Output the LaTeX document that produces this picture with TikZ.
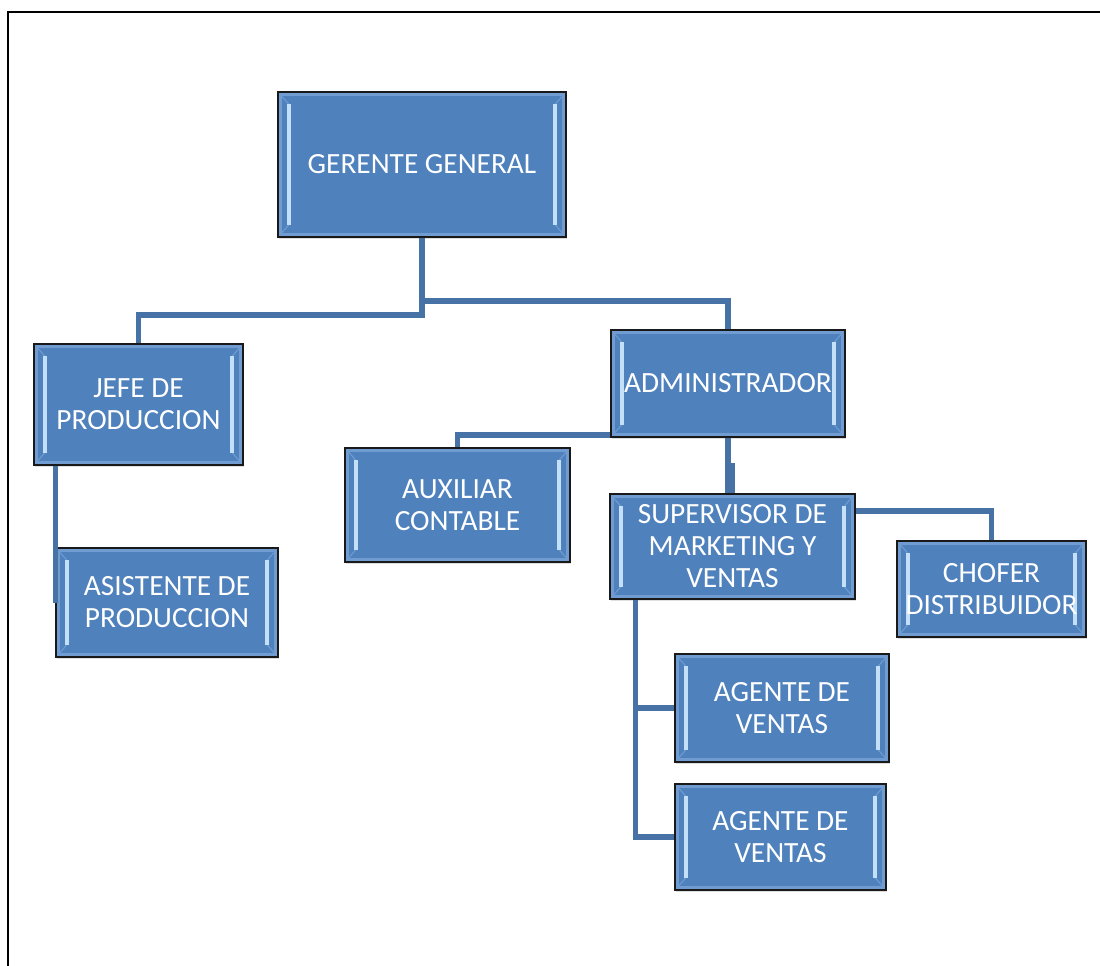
\documentclass[tikz,border=0pt]{standalone}
\usepackage{fontspec}
\setmainfont{Carlito}
\usetikzlibrary{shadows}

\definecolor{boxblue}{RGB}{79,129,189}
\definecolor{rimblue}{RGB}{112,156,210}
\definecolor{barlight}{RGB}{196,224,248}
\definecolor{linkblue}{RGB}{70,114,166}

\tikzset{every picture/.style={line width=0.75pt}}
\tikzset{
  post/.style={rectangle, fill=boxblue, draw={rgb,255:red,25;green,25;blue,25}, line width=1.3pt,
    text=white, font=\fontsize{22}{24}\selectfont, align=center, inner sep=0pt,
    drop shadow={opacity=0.25, shadow xshift=1pt, shadow yshift=-1.2pt},
    path picture={
      \draw[rimblue, line width=6pt] (path picture bounding box.north west) rectangle (path picture bounding box.south east);
      \draw[rimblue, line width=0.8pt] (path picture bounding box.north west) -- ([xshift=8pt,yshift=-9pt]path picture bounding box.north west);
      \draw[rimblue, line width=0.8pt] (path picture bounding box.south west) -- ([xshift=8pt,yshift=9pt]path picture bounding box.south west);
      \draw[rimblue, line width=0.8pt] (path picture bounding box.north east) -- ([xshift=-8pt,yshift=-9pt]path picture bounding box.north east);
      \draw[rimblue, line width=0.8pt] (path picture bounding box.south east) -- ([xshift=-8pt,yshift=9pt]path picture bounding box.south east);
      \draw[barlight, line width=3pt] ([xshift=8pt,yshift=-9pt]path picture bounding box.north west) -- ([xshift=8pt,yshift=9pt]path picture bounding box.south west);
      \draw[barlight, line width=3pt] ([xshift=-8pt,yshift=-9pt]path picture bounding box.north east) -- ([xshift=-8pt,yshift=9pt]path picture bounding box.south east);
    }},
  link/.style={draw=linkblue, line width=4pt},
}

\begin{document}
\begin{tikzpicture}[x=0.75pt,y=0.75pt,yscale=-1,xscale=1]
\useasboundingbox (0,0) rectangle (1100,966);

%Straight Lines [frame]
\draw [line width=2.2pt]    (8,966) -- (8,12) -- (1100,12) ;

% Text Node
\node [post, minimum width=216pt, minimum height=108.75pt] (gerente) at (422,164.5) {GERENTE GENERAL};
% Text Node
\node [post, minimum width=156.75pt, minimum height=90.75pt] (jefe) at (138.5,404.5) {JEFE DE\\PRODUCCION};
% Text Node
\node [post, minimum width=166.5pt, minimum height=81.75pt] (asistente) at (167,602.5) {ASISTENTE DE\\PRODUCCION};
% Text Node
\node [post, minimum width=175.5pt, minimum height=80.25pt] (admin) at (728,383.5) {ADMINISTRADOR};
% Text Node
\node [post, minimum width=168.75pt, minimum height=85.5pt] (auxiliar) at (457.5,505) {AUXILIAR\\CONTABLE};
% Text Node
\node [post, minimum width=183.75pt, minimum height=78.75pt] (supervisor) at (732.5,546.5) {SUPERVISOR DE\\MARKETING Y\\VENTAS};
% Text Node
\node [post, minimum width=141.75pt, minimum height=72pt] (chofer) at (991.5,589) {CHOFER\\DISTRIBUIDOR};
% Text Node
\node [post, minimum width=160.5pt, minimum height=81pt] (agenteA) at (782,708) {AGENTE DE\\VENTAS};
% Text Node
\node [post, minimum width=158.25pt, minimum height=79.5pt] (agenteB) at (780.5,837) {AGENTE DE\\VENTAS};

%Straight Lines [gerente to jefe and admin]
\draw [link]    (gerente.south) -- ++(0,77) -| (jefe.north) ;
\draw [link]    (gerente.south) -- ++(0,63) -| (admin.north) ;
%Straight Lines [jefe to asistente]
\draw [link]    ([xshift=17pt]jefe.south west) -- ([xshift=17pt]jefe.south west |- asistente.west) ;
%Straight Lines [admin to auxiliar and supervisor]
\draw [link]    ([yshift=-2.2pt]admin.south west) -| (auxiliar.north) ;
\draw [link]    (admin.south) -- (admin.south |- supervisor.north) ;
\draw [link]    (admin.south) -- ++(0,28) -| (supervisor.north) ;
%Straight Lines [supervisor to chofer and agents]
\draw [link]    ([yshift=13.5pt]supervisor.north east) -| (chofer.north) ;
\draw [link]    ([xshift=20pt]supervisor.south west) |- (agenteA.west) ;
\draw [link]    ([xshift=20pt]supervisor.south west) |- (agenteB.west) ;

\end{tikzpicture}
\end{document}
